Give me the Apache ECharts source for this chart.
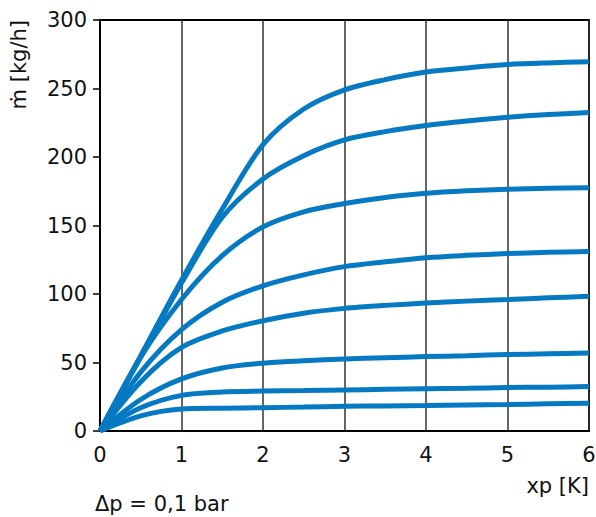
<!DOCTYPE html>
<html>
<head>
<meta charset="utf-8">
<script src="https://cdn.jsdelivr.net/npm/echarts@6/dist/echarts.min.js"></script>
<style>
  html, body { margin: 0; padding: 0; background: #fff; }
  #chart { width: 596px; height: 517px; }
</style>
</head>
<body>
<div id="chart"></div>
<script>
// xp sample positions and m values
const xp = [0, 0.5, 1, 1.5, 2, 2.5, 3, 3.5, 4, 4.5, 5, 5.5, 6];
const curve1 = [0, 55, 110, 162, 209, 235, 249, 256.5, 262, 265, 267.5, 268.7, 269.5];
const curve2 = [0, 54, 108, 156, 184, 201, 212.5, 218.5, 223, 226.3, 229, 231, 232.4];
const curve3 = [0, 54, 96, 128, 149, 160, 166, 170.5, 173.5, 175.3, 176.5, 177.2, 177.5];
const curve4 = [0, 43, 74, 94, 106, 114, 120, 123.5, 126.5, 128.2, 129.5, 130.4, 131];
const curve5 = [0, 36, 61, 73, 80.5, 86, 89.5, 91.7, 93.4, 94.8, 96, 97.2, 98.3];
const curve6 = [0, 23, 38, 46, 49.5, 51.2, 52.6, 53.5, 54.3, 55, 55.8, 56.4, 57];
const curve7 = [0, 17, 26, 28.5, 29.2, 29.6, 30, 30.4, 30.8, 31.2, 31.7, 32, 32.4];
const curve8 = [0, 11, 16, 16.6, 17, 17.5, 18, 18.3, 18.6, 19, 19.3, 19.8, 20.3];
const curves = [curve1, curve2, curve3, curve4, curve5, curve6, curve7, curve8];

const xTicks = [0, 1, 2, 3, 4, 5, 6];
const yTicks = [0, 50, 100, 150, 200, 250, 300];

const yTitle = 'ṁ [kg/h]';
const xTitle = 'xp [K]';
const note = 'Δp = 0,1 bar';

const FONT = 'DejaVu Sans';
const BLUE = '#0579c2';

const chart = echarts.init(document.getElementById('chart'), null, { renderer: 'svg' });

const option = {
  animation: false,
  backgroundColor: '#fff',
  grid: {
    left: 100,
    right: 7,
    top: 20,
    bottom: 86,
    containLabel: false,
    outerBoundsMode: 'none',
    show: true,
    borderColor: '#000',
    borderWidth: 2,
    backgroundColor: 'transparent',
  },
  xAxis: {
    type: 'value',
    min: xTicks[0],
    max: xTicks[xTicks.length - 1],
    interval: 1,
    axisLine: { show: true, lineStyle: { color: '#000', width: 2 } },
    axisTick: { show: false },
    axisLabel: {
      margin: 13,
      color: '#111',
      fontFamily: FONT,
      fontSize: 21,
    },
    splitLine: { show: true, lineStyle: { color: '#333', width: 1.5 } },
  },
  yAxis: {
    type: 'value',
    min: yTicks[0],
    max: yTicks[yTicks.length - 1],
    interval: 50,
    axisLine: { show: true, lineStyle: { color: '#000', width: 2 } },
    axisTick: { show: true, length: 7, lineStyle: { color: '#000', width: 1.5 } },
    axisLabel: {
      margin: 13,
      color: '#111',
      fontFamily: FONT,
      fontSize: 21,
    },
    splitLine: { show: false },
  },
  graphic: [
    {
      type: 'text',
      rotation: Math.PI / 2,
      x: 8,
      y: 20,
      style: {
        text: yTitle,
        fill: '#111',
        font: '21px "DejaVu Sans"',
        textAlign: 'right',
        textVerticalAlign: 'top',
      },
    },
    {
      type: 'text',
      right: 7,
      top: 475,
      style: { text: xTitle, fill: '#111', font: '21px "DejaVu Sans"' },
    },
    {
      type: 'text',
      left: 95,
      top: 493,
      style: { text: note, fill: '#111', font: '21px "DejaVu Sans"' },
    },
  ],
  series: curves.map(c => ({
    type: 'line',
    data: c.map((v, i) => [xp[i], v]),
    smooth: 0.3,
    showSymbol: false,
    lineStyle: { color: BLUE, width: 5 },
  })),
};

chart.setOption(option);
</script>
</body>
</html>
